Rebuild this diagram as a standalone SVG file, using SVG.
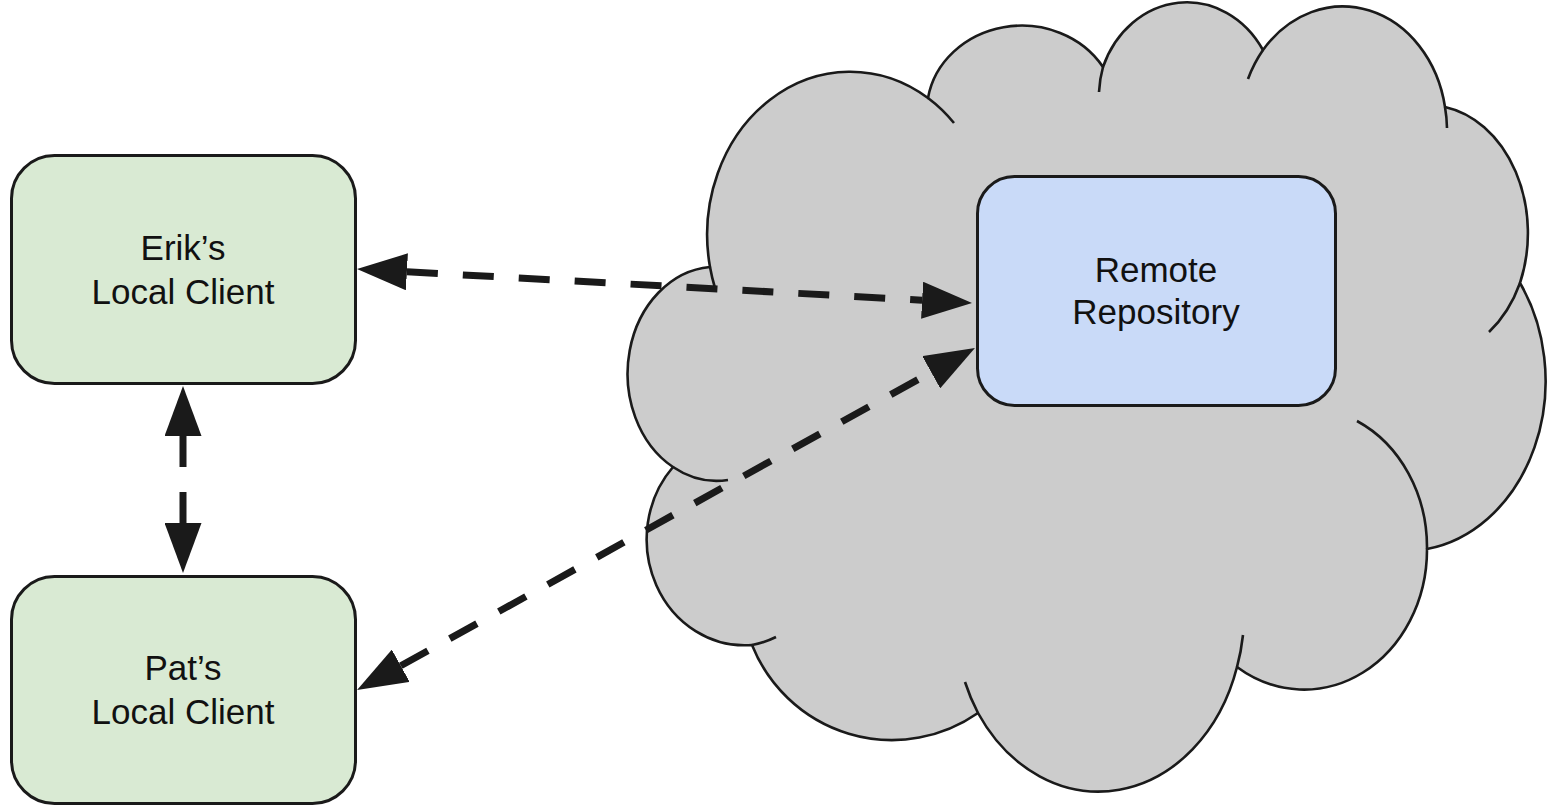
<svg xmlns="http://www.w3.org/2000/svg" width="1550" height="806" viewBox="0 0 1550 806">
<style>
.cloud{fill:#cccccc;stroke:#1a1a1a;stroke-width:2.6;stroke-linejoin:round}
.tick{fill:none;stroke:#1a1a1a;stroke-width:2.6}
.client{fill:#d9ead3;stroke:#1a1a1a;stroke-width:3}
.remote{fill:#c9daf8;stroke:#1a1a1a;stroke-width:3}
.lbl{font-family:"Liberation Sans",Arial,sans-serif;font-size:35px;fill:#111;text-anchor:middle}
.conn{fill:none;stroke:#1a1a1a;stroke-width:7;stroke-dasharray:31 25}
</style>
<defs>
<marker id="ah" markerUnits="userSpaceOnUse" markerWidth="50" markerHeight="37" viewBox="0 0 50 37" refX="0" refY="18.5" orient="auto-start-reverse">
<path d="M0,0 L50,18.5 L0,37 Z" fill="#1a1a1a"/>
</marker>
</defs>
<g id="cloud">
<path class="cloud" d="M710,267 A143 163 0 0 1 928,98 A95 86 0 0 1 1103,67 A90 102 0 0 1 1263,50 A104 122 0 0 1 1445,107 A100 128 0 0 1 1520,283 A140 170 0 0 1 1427,549 A123 140 0 0 1 1237,667 A145 177 0 0 1 978,713 A151 152 0 0 1 752,645 A98 106 0 0 1 673,467 A89 107 0 0 1 710,267 Z"/>
<path class="tick" d="M928,98 A143 163 0 0 1 954,123"/>
<path class="tick" d="M715,288 A143 163 0 0 1 710,267"/>
<path class="tick" d="M1099,92 A90 102 0 0 1 1103,67"/>
<path class="tick" d="M1248,79 A104 122 0 0 1 1263,50"/>
<path class="tick" d="M1445,107 A104 122 0 0 1 1447,128"/>
<path class="tick" d="M1520,283 A100 128 0 0 1 1489,332"/>
<path class="tick" d="M1357,421 A123 140 0 0 1 1427,549"/>
<path class="tick" d="M1243,635 A145 177 0 0 1 1237,667"/>
<path class="tick" d="M978,713 A145 177 0 0 1 965,682"/>
<path class="tick" d="M776,637 A98 106 0 0 1 752,645"/>
<path class="tick" d="M728,480 A89 107 0 0 1 673,467"/>
</g>
<g id="remote">
<rect class="remote" x="977.5" y="176.5" width="358" height="229" rx="37" ry="37"/>
<text class="lbl" x="1156" y="282">Remote</text>
<text class="lbl" x="1156" y="324">Repository</text>
</g>
<g id="erik">
<rect class="client" x="11.5" y="155.5" width="344" height="228" rx="43" ry="43"/>
<text class="lbl" x="183" y="260">Erik’s</text>
<text class="lbl" x="183" y="304">Local Client</text>
</g>
<g id="pat">
<rect class="client" x="11.5" y="576.5" width="344" height="227" rx="43" ry="43"/>
<text class="lbl" x="183" y="680">Pat’s</text>
<text class="lbl" x="183" y="724">Local Client</text>
</g>
<g id="connectors">
<line class="conn" x1="406.9" y1="271.8" x2="922.1" y2="300.2" marker-start="url(#ah)" marker-end="url(#ah)"/>
<line class="conn" x1="400.8" y1="665.8" x2="931.2" y2="372.2" marker-start="url(#ah)" marker-end="url(#ah)"/>
<line class="conn" x1="183" y1="436" x2="183" y2="523" marker-start="url(#ah)" marker-end="url(#ah)"/>
</g>
</svg>
